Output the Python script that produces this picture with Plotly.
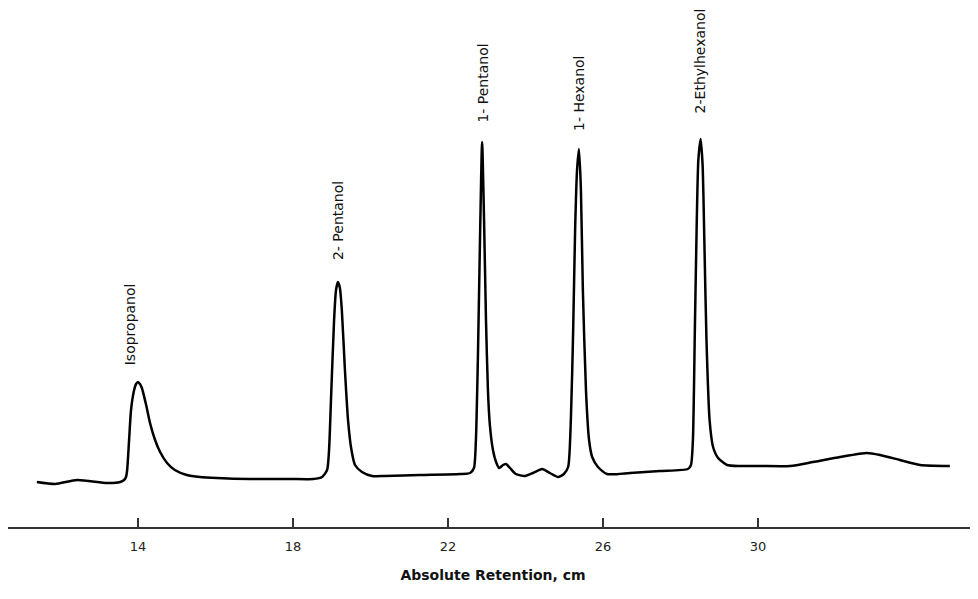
import plotly.graph_objects as go

# Retention (cm) and detector signal (arbitrary units)
retention = [11.39, 11.86, 12.43, 13.20, 13.54, 13.64, 13.69, 13.72, 13.77, 13.82, 13.90, 13.95, 14.00, 14.05, 14.10,
             14.21, 14.31, 14.44, 14.57, 14.75, 14.95, 15.26, 15.60, 16.04, 16.89, 17.92, 18.52, 18.75, 18.88, 18.93,
             18.98, 19.06, 19.11, 19.16, 19.21, 19.26, 19.34, 19.42, 19.50, 19.60, 19.78, 20.04, 20.37, 21.28, 22.31,
             22.57, 22.67, 22.72, 22.77, 22.83, 22.88, 22.93, 22.98, 23.03, 23.08, 23.16, 23.24, 23.32, 23.42, 23.50,
             23.60, 23.75, 23.99, 24.19, 24.43, 24.63, 24.84, 24.99, 25.10, 25.17, 25.23, 25.28, 25.33, 25.38, 25.43,
             25.48, 25.56, 25.64, 25.72, 25.87, 26.10, 26.70, 27.47, 28.19, 28.27, 28.32, 28.37, 28.42, 28.46, 28.52,
             28.57, 28.62, 28.67, 28.75, 28.84, 28.97, 29.20, 29.54, 30.05, 30.83, 31.42, 32.12, 32.81, 33.15, 33.66,
             34.18, 34.95]
signal = [45, 43, 47, 44, 45, 47, 50, 57, 87, 117, 137, 143, 145, 143, 139,
          122, 104, 87, 75, 64, 57, 52, 50, 49, 48, 48, 48, 50, 57, 77,
          127, 207, 237, 245, 239, 217, 157, 107, 79, 62, 55, 51, 51, 52, 53,
          54, 59, 87, 167, 297, 385, 307, 207, 137, 102, 77, 65, 59, 62, 63,
          59, 53, 51, 54, 58, 54, 50, 53, 60, 107, 197, 297, 357, 378, 337,
          237, 137, 87, 70, 60, 53, 54, 56, 58, 62, 87, 197, 307, 367, 388,
          362, 277, 187, 107, 80, 69, 62, 61, 61, 61, 65, 70, 74, 72, 67,
          62, 61]

peak_names = ["Isopropanol", "2- Pentanol", "1- Pentanol", "1- Hexanol", "2-Ethylhexanol"]
peak_label_x = [13.8, 19.15, 22.88, 25.38, 28.5]
peak_label_y = [160, 265, 402, 394, 412]
tick_values = [14, 18, 22, 26, 30]

fig = go.Figure()
fig.add_trace(go.Scatter(x=retention, y=signal, mode="lines",
                         line=dict(color="black", width=2.5, shape="spline", smoothing=0.6),
                         hoverinfo="skip", showlegend=False))

for name, lx, ly in zip(peak_names, peak_label_x, peak_label_y):
    fig.add_annotation(x=lx, y=ly, text=name, textangle=-90, showarrow=False,
                       xanchor="center", yanchor="bottom",
                       font=dict(family="DejaVu Sans", size=14, color="#111"))

fig.update_layout(
    width=970, height=591,
    margin=dict(l=0, r=0, t=0, b=72),
    paper_bgcolor="white", plot_bgcolor="white",
    xaxis=dict(range=[10.645, 35.677], showgrid=False, zeroline=False,
               showline=True, linecolor="#333", linewidth=2,
               ticks="inside", ticklen=9, tickwidth=1.5, tickcolor="#333",
               tickvals=tick_values, ticktext=[str(v) for v in tick_values],
               ticklabelstandoff=6,
               tickfont=dict(family="DejaVu Sans", size=13, color="#222"),
               title=dict(text="<b>Absolute Retention, cm</b>", standoff=18,
                          font=dict(family="DejaVu Sans", size=14, color="#111"))),
    yaxis=dict(range=[0, 519], visible=False, showgrid=False, zeroline=False),
)

fig.write_html("out.html")
